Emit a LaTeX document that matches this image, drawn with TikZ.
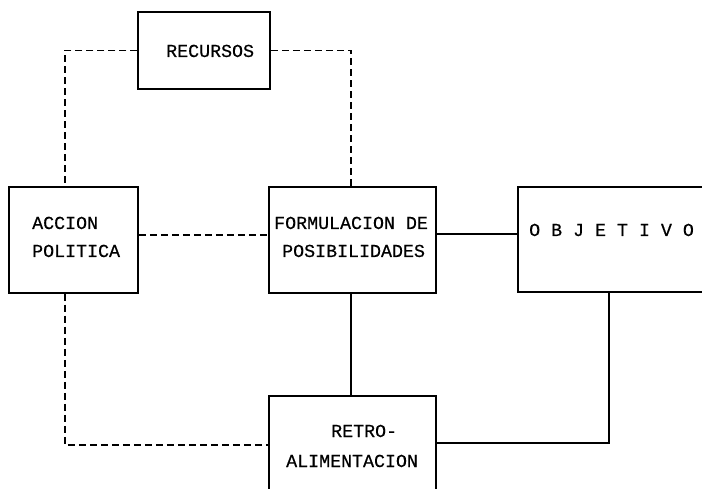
\documentclass[tikz,border=0pt]{standalone}
\usepackage{fontspec}
\setmonofont[FakeBold=0.5]{Liberation Mono}
\begin{document}
\begin{tikzpicture}[x=1pt,y=-1pt,
  block/.style={draw, line width=1.5pt, inner sep=0pt, minimum width=#1},
  lbl/.style={anchor=base west, inner sep=0pt, font=\ttfamily\fontsize{18.3}{22}\selectfont},
  link/.style={line width=1.1pt},
  dlink/.style={line width=1.1pt, dash pattern=on 7pt off 4pt}]
\useasboundingbox (0,0) rectangle (702,489);
\fill[white] (0,0) rectangle (702,489);
\clip (0,0) rectangle (702,489);

% blocks
\node[block=132pt, minimum height=77pt]  (rec) at (204,50.5)  {};
\node[block=129pt, minimum height=106pt] (acc) at (73.5,240)  {};
\node[block=167pt, minimum height=106pt] (for) at (352.5,240) {};
\node[block=192pt, minimum height=105pt] (obj) at (614,239.5) {};
\node[block=167pt, minimum height=104pt] (ret) at (352.5,448) {};

% block texts
\node[lbl] (t-rec)  at (166,57)  {RECURSOS};
\node[lbl] (t-acc1) at (32,229)  {ACCION};
\node[lbl] (t-acc2) at (32,257)  {POLITICA};
\node[lbl] (t-for1) at (274,229) {FORMULACION DE};
\node[lbl] (t-for2) at (282,257) {POSIBILIDADES};
\node[lbl] (t-obj)  at (529,236) {O B J E T I V O};
\node[lbl] (t-ret1) at (331,437) {RETRO-};
\node[lbl] (t-ret2) at (286,467) {ALIMENTACION};

% routing guides
\coordinate (ax) at (65,0);
\coordinate (fx) at (351,0);
\coordinate (ox) at (609,0);
\coordinate (hy) at (0,235);
\coordinate (oy) at (0,234);
\coordinate (ry) at (0,443);
\coordinate (ly) at (0,445);

% connectors
\draw[dlink] (rec.west) -| (acc.north -| ax);
\draw[dlink] (rec.east) -| (for.north -| fx);
\draw[dlink] (acc.east |- hy) -- (for.west |- hy);
\draw[link]  (for.east |- oy) -- (obj.west |- oy);
\draw[link]  (for.south -| fx) -- (ret.north -| fx);
\draw[link]  (obj.south -| ox) |- (ret.east |- ry);
\draw[dlink] (acc.south -| ax) |- (ret.west |- ly);
\end{tikzpicture}
\end{document}
